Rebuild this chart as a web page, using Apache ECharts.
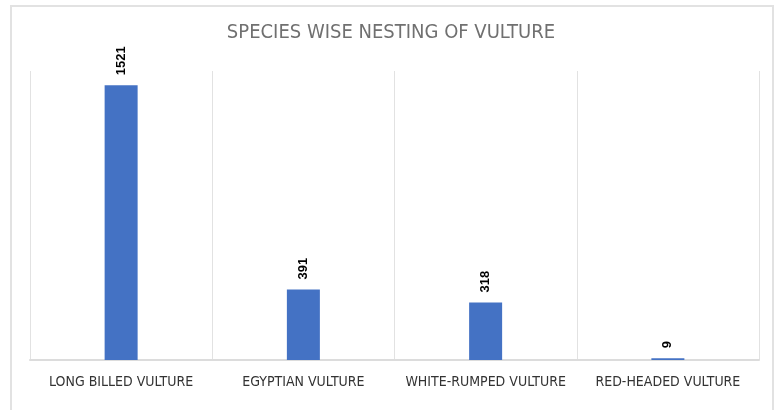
<!DOCTYPE html>
<html>
<head>
<meta charset="utf-8">
<script src="https://cdn.jsdelivr.net/npm/echarts@6/dist/echarts.min.js"></script>
<style>
  html, body { margin: 0; padding: 0; background: #fff; }
  #frame { position: absolute; left: 10px; top: 5px; width: 764px; height: 420px; border: 2px solid #e2e2e2; box-sizing: border-box; }
  #chart { position: absolute; left: 0; top: 0; width: 782px; height: 410px; }
</style>
</head>
<body>
<div id="frame"></div>
<div id="chart"></div>
<script>
// Nest counts per vulture species
const species = ['LONG BILLED VULTURE', 'EGYPTIAN VULTURE', 'WHITE-RUMPED VULTURE', 'RED-HEADED VULTURE'];
const nests = [1521, 391, 318, 9];

const condensed = '"Liberation Sans Narrow", "DejaVu Sans Condensed", "Arial Narrow", sans-serif';

const chart = echarts.init(document.getElementById('chart'), null, { renderer: 'canvas' });
chart.setOption({
  backgroundColor: 'transparent',
  animation: false,
  title: {
    text: 'SPECIES WISE NESTING OF VULTURE',
    left: 'center',
    top: 18,
    textStyle: { fontFamily: condensed, fontSize: 20, fontWeight: 'normal', color: '#707070' }
  },
  grid: { left: 30, right: 23, top: 71, bottom: 50 },
  xAxis: {
    type: 'category',
    data: species,
    boundaryGap: true,
    axisLine: { lineStyle: { color: '#dcdcdc', width: 2 } },
    axisTick: { show: false },
    splitLine: { show: true, interval: 0, lineStyle: { color: '#e2e2e2', width: 1 } },
    axisLabel: { interval: 0, fontFamily: condensed, fontSize: 14, color: '#333333', margin: 15 }
  },
  yAxis: {
    type: 'value',
    min: 0,
    max: 1600,
    show: false,
    splitLine: { show: false }
  },
  series: [{
    type: 'bar',
    data: nests,
    barWidth: 33,
    itemStyle: { color: '#4472c4' },
    label: {
      show: true,
      position: 'top',
      rotate: 90,
      align: 'left',
      verticalAlign: 'middle',
      distance: 10,
      fontFamily: 'Arial, "Liberation Sans", sans-serif',
      fontWeight: 'bold',
      fontSize: 13,
      color: '#000'
    }
  }]
});
</script>
</body>
</html>
